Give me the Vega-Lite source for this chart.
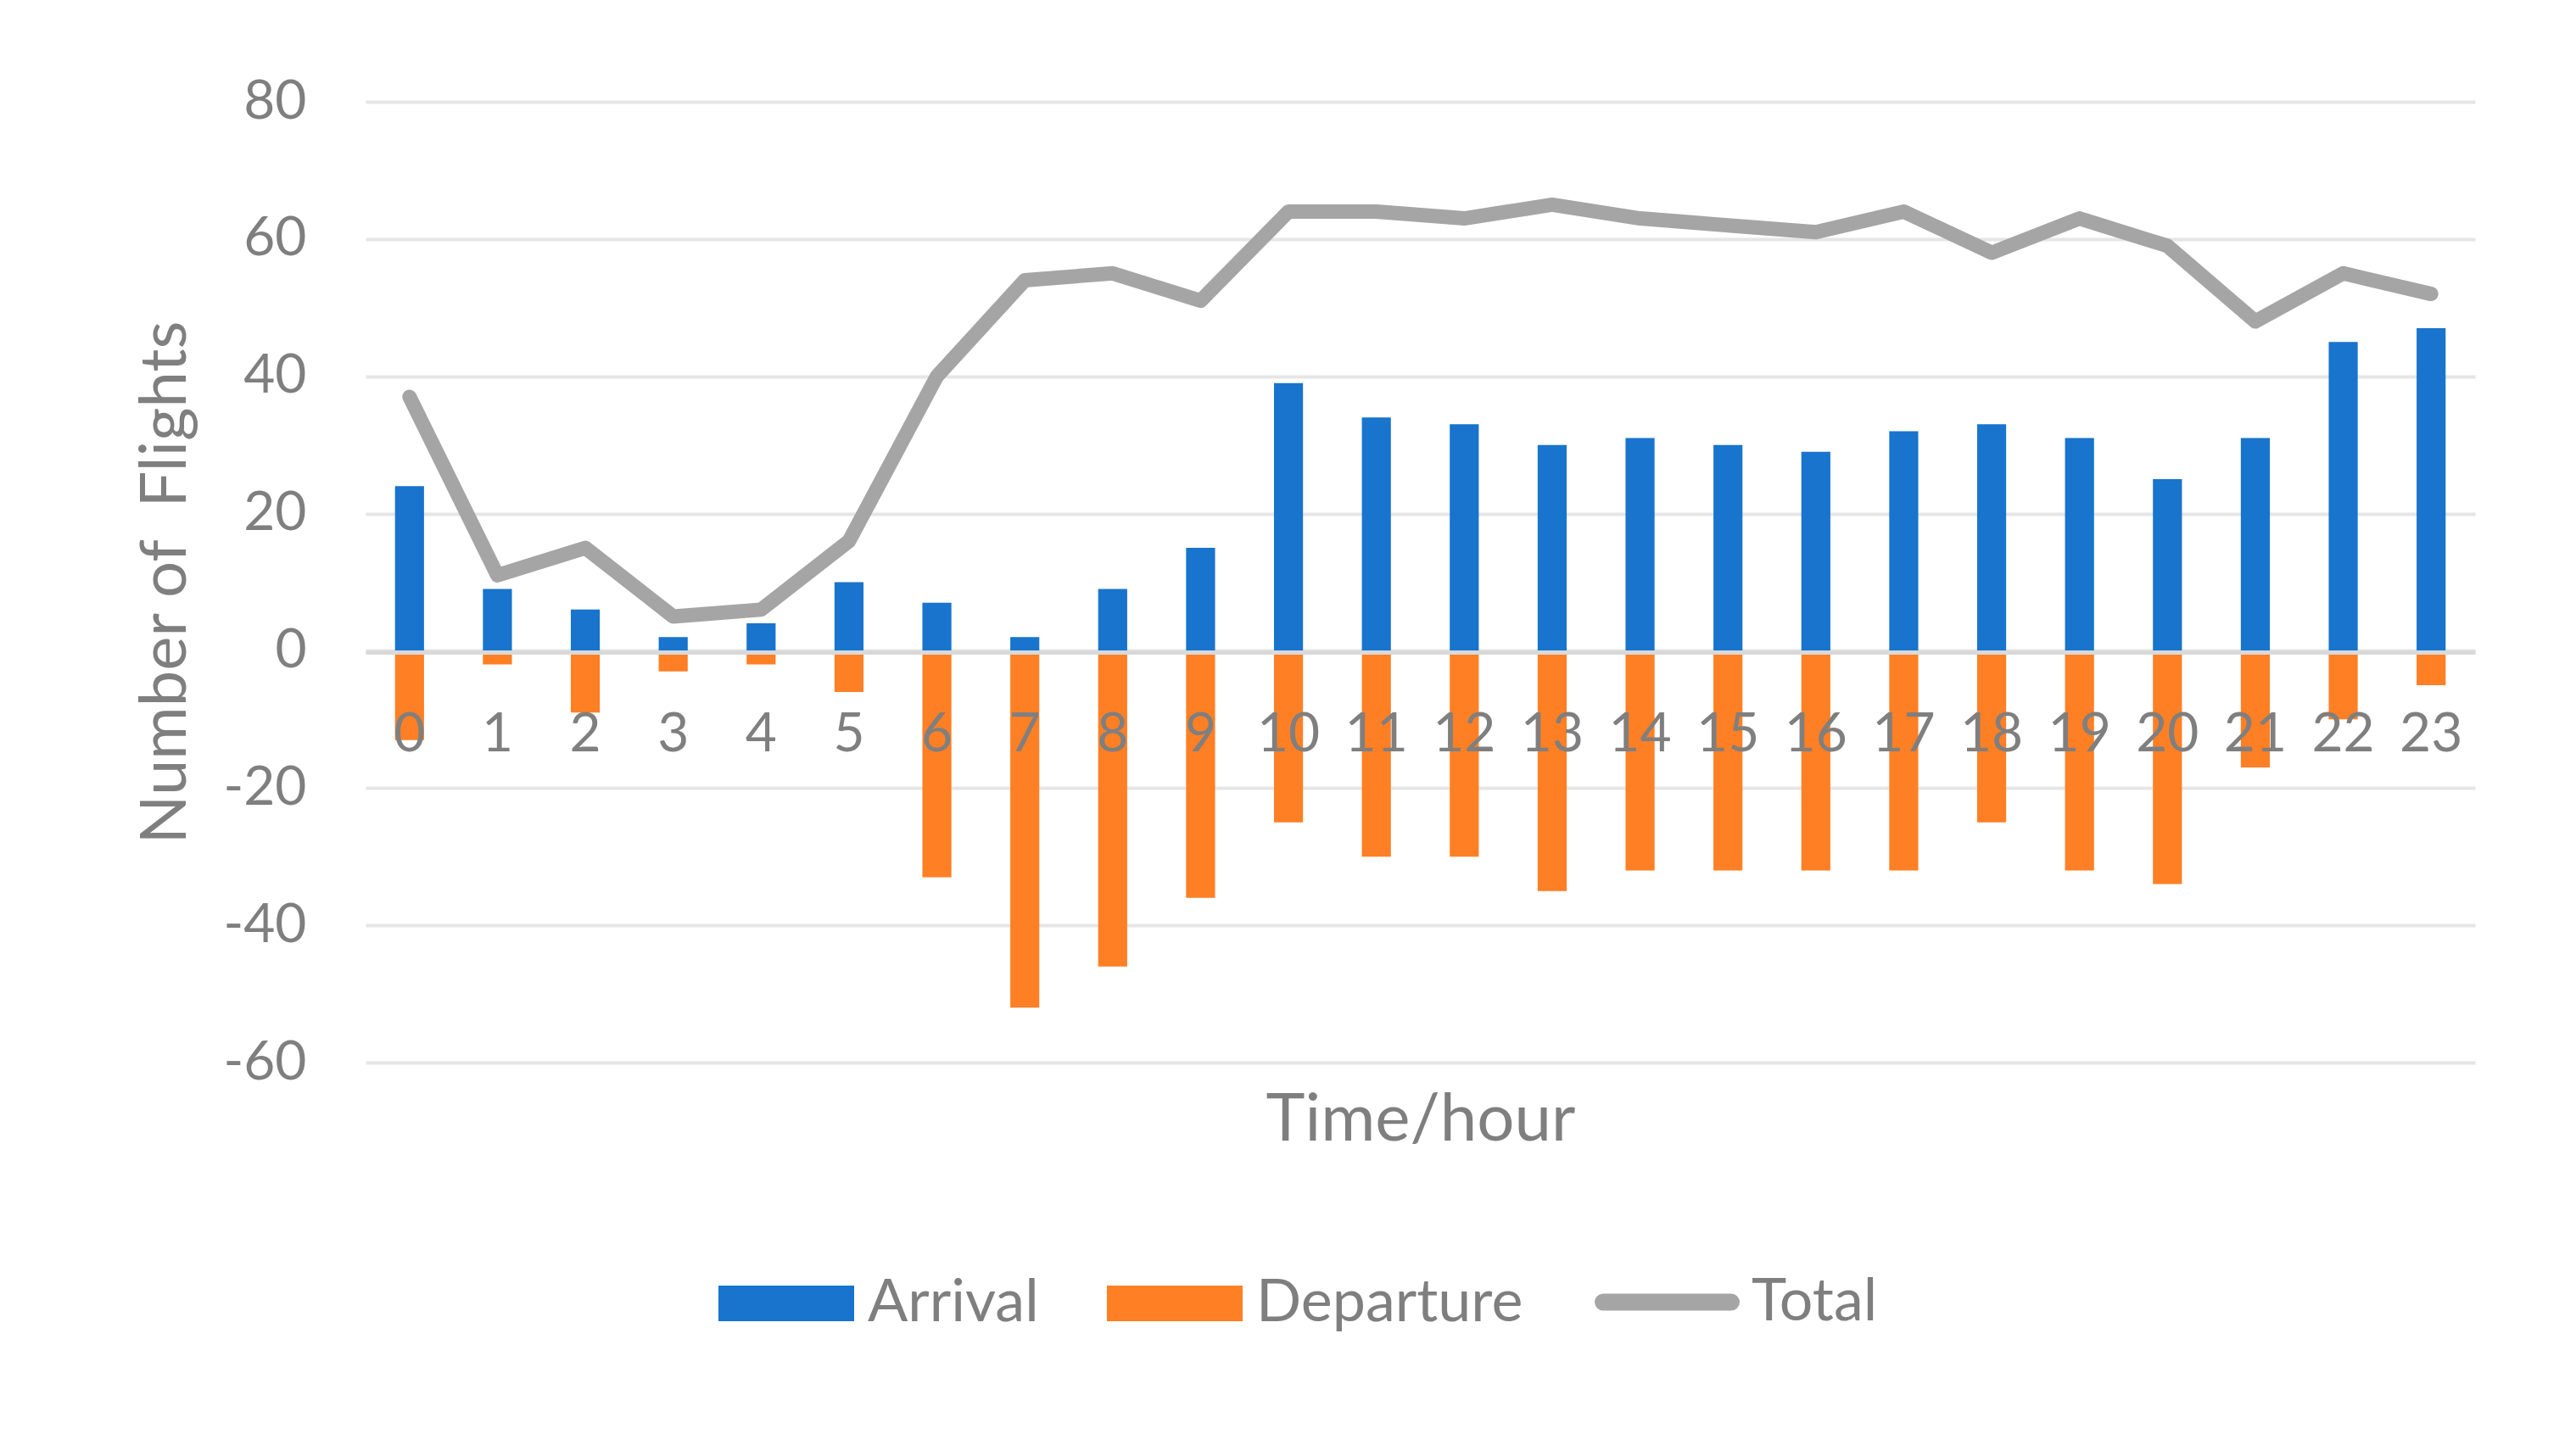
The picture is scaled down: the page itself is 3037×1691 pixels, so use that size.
{
  "$schema": "https://vega.github.io/schema/vega-lite/v6.json",
  "width": 2487,
  "height": 1133,
  "autosize": {"type": "none"},
  "padding": {"left": 431, "top": 120, "right": 119, "bottom": 438},
  "background": "white",
  "config": {
    "view": {"stroke": null},
    "font": "Lato",
    "axis": {"labelFont": "Lato", "titleFont": "Lato", "titleFontWeight": "normal"},
    "legend": {"labelFont": "Lato"}
  },
  "data": {
    "values": [
      {"hour": 0, "series": "Arrival", "value": 24}, {"hour": 0, "series": "Departure", "value": -13}, {"hour": 0, "series": "Total", "value": 37},
      {"hour": 1, "series": "Arrival", "value": 9}, {"hour": 1, "series": "Departure", "value": -2}, {"hour": 1, "series": "Total", "value": 11},
      {"hour": 2, "series": "Arrival", "value": 6}, {"hour": 2, "series": "Departure", "value": -9}, {"hour": 2, "series": "Total", "value": 15},
      {"hour": 3, "series": "Arrival", "value": 2}, {"hour": 3, "series": "Departure", "value": -3}, {"hour": 3, "series": "Total", "value": 5},
      {"hour": 4, "series": "Arrival", "value": 4}, {"hour": 4, "series": "Departure", "value": -2}, {"hour": 4, "series": "Total", "value": 6},
      {"hour": 5, "series": "Arrival", "value": 10}, {"hour": 5, "series": "Departure", "value": -6}, {"hour": 5, "series": "Total", "value": 16},
      {"hour": 6, "series": "Arrival", "value": 7}, {"hour": 6, "series": "Departure", "value": -33}, {"hour": 6, "series": "Total", "value": 40},
      {"hour": 7, "series": "Arrival", "value": 2}, {"hour": 7, "series": "Departure", "value": -52}, {"hour": 7, "series": "Total", "value": 54},
      {"hour": 8, "series": "Arrival", "value": 9}, {"hour": 8, "series": "Departure", "value": -46}, {"hour": 8, "series": "Total", "value": 55},
      {"hour": 9, "series": "Arrival", "value": 15}, {"hour": 9, "series": "Departure", "value": -36}, {"hour": 9, "series": "Total", "value": 51},
      {"hour": 10, "series": "Arrival", "value": 39}, {"hour": 10, "series": "Departure", "value": -25}, {"hour": 10, "series": "Total", "value": 64},
      {"hour": 11, "series": "Arrival", "value": 34}, {"hour": 11, "series": "Departure", "value": -30}, {"hour": 11, "series": "Total", "value": 64},
      {"hour": 12, "series": "Arrival", "value": 33}, {"hour": 12, "series": "Departure", "value": -30}, {"hour": 12, "series": "Total", "value": 63},
      {"hour": 13, "series": "Arrival", "value": 30}, {"hour": 13, "series": "Departure", "value": -35}, {"hour": 13, "series": "Total", "value": 65},
      {"hour": 14, "series": "Arrival", "value": 31}, {"hour": 14, "series": "Departure", "value": -32}, {"hour": 14, "series": "Total", "value": 63},
      {"hour": 15, "series": "Arrival", "value": 30}, {"hour": 15, "series": "Departure", "value": -32}, {"hour": 15, "series": "Total", "value": 62},
      {"hour": 16, "series": "Arrival", "value": 29}, {"hour": 16, "series": "Departure", "value": -32}, {"hour": 16, "series": "Total", "value": 61},
      {"hour": 17, "series": "Arrival", "value": 32}, {"hour": 17, "series": "Departure", "value": -32}, {"hour": 17, "series": "Total", "value": 64},
      {"hour": 18, "series": "Arrival", "value": 33}, {"hour": 18, "series": "Departure", "value": -25}, {"hour": 18, "series": "Total", "value": 58},
      {"hour": 19, "series": "Arrival", "value": 31}, {"hour": 19, "series": "Departure", "value": -32}, {"hour": 19, "series": "Total", "value": 63},
      {"hour": 20, "series": "Arrival", "value": 25}, {"hour": 20, "series": "Departure", "value": -34}, {"hour": 20, "series": "Total", "value": 59},
      {"hour": 21, "series": "Arrival", "value": 31}, {"hour": 21, "series": "Departure", "value": -17}, {"hour": 21, "series": "Total", "value": 48},
      {"hour": 22, "series": "Arrival", "value": 45}, {"hour": 22, "series": "Departure", "value": -10}, {"hour": 22, "series": "Total", "value": 55},
      {"hour": 23, "series": "Arrival", "value": 47}, {"hour": 23, "series": "Departure", "value": -5}, {"hour": 23, "series": "Total", "value": 52}
    ]
  },
  "encoding": {
    "x": {
      "field": "hour",
      "type": "ordinal",
      "scale": {"paddingInner": 0, "paddingOuter": 0},
      "axis": {
        "title": "Time/hour",
        "labelAngle": 0,
        "offset": -484,
        "domainColor": "#d9d9d9",
        "domainWidth": 5,
        "ticks": false,
        "tickSize": 0,
        "labelPadding": 65,
        "labelFontSize": 64,
        "labelColor": "#7f7f7f",
        "titleFontSize": 78,
        "titleColor": "#7f7f7f",
        "titlePadding": 384,
        "grid": false,
        "zindex": 1
      }
    },
    "y": {
      "field": "value",
      "type": "quantitative",
      "scale": {"domain": [-60, 80], "nice": false},
      "axis": {
        "values": [-60, -40, -20, 0, 20, 40, 60, 80],
        "labelExpr": "'' + datum.value",
        "title": "Number of\u00a0 Flights",
        "domain": false,
        "ticks": false,
        "tickSize": 0,
        "labelPadding": 70,
        "labelFontSize": 64,
        "labelColor": "#7f7f7f",
        "gridColor": "#e6e6e6",
        "gridWidth": 4,
        "titleFontSize": 76,
        "titleColor": "#7f7f7f",
        "titlePadding": 28
      }
    }
  },
  "layer": [
    {
      "transform": [{"filter": {"field": "series", "oneOf": ["Arrival", "Departure"]}}],
      "mark": {"type": "bar", "width": {"band": 0.33}},
      "encoding": {
        "color": {
          "field": "series",
          "type": "nominal",
          "scale": {"domain": ["Arrival", "Departure"], "range": ["#1874CD", "#FF7F24"]},
          "legend": {
            "title": null,
            "orient": "none",
            "direction": "horizontal",
            "legendX": 416,
            "legendY": 1337,
            "padding": 0,
            "symbolType": "M-1,-0.2625L1,-0.2625L1,0.2625L-1,0.2625Z",
            "symbolSize": 25600,
            "symbolStrokeWidth": 0,
            "symbolOpacity": 1,
            "labelOffset": 16,
            "labelLimit": 0,
            "columnPadding": 80,
            "labelFontSize": 70,
            "labelColor": "#7f7f7f"
          }
        }
      }
    },
    {
      "transform": [{"filter": {"field": "series", "equal": "Total"}}],
      "mark": {"type": "line", "strokeWidth": 17, "strokeCap": "round", "strokeJoin": "round"},
      "encoding": {
        "stroke": {
          "field": "series",
          "type": "nominal",
          "scale": {"domain": ["Total"], "range": ["#A5A5A5"]},
          "legend": {
            "title": null,
            "orient": "none",
            "direction": "horizontal",
            "legendX": 1449,
            "legendY": 1330,
            "padding": 0,
            "symbolType": "stroke",
            "symbolSize": 22800,
            "symbolStrokeWidth": 20,
            "labelOffset": 14,
            "labelLimit": 0,
            "labelFontSize": 70,
            "labelColor": "#7f7f7f",
            "encode": {"symbols": {"update": {"strokeCap": {"value": "round"}}}}
          }
        }
      }
    }
  ]
}
